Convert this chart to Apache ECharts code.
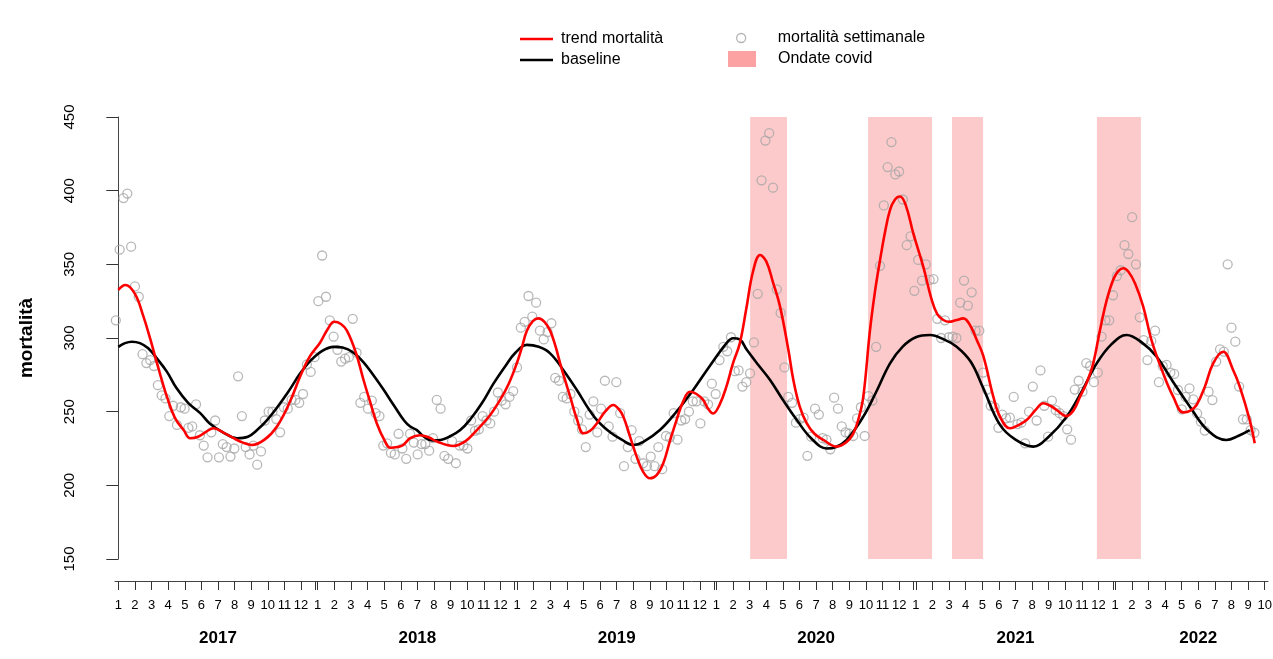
<!DOCTYPE html>
<html><head><meta charset="utf-8">
<script src="https://cdn.jsdelivr.net/npm/echarts@6/dist/echarts.min.js"></script>
<style>html,body{margin:0;padding:0;background:#fff}#c{width:1273px;height:659px}</style>
</head><body><div id="c"></div>
<script>
// ---- data (x = months since January 2017) ----
const monthLabels = ['1','2','3','4','5','6','7','8','9','10','11','12'];
const years = ['2017','2018','2019','2020','2021','2022'];
const yearLabelPos = [6, 18, 30, 42, 54, 65];
const lastMonthTick = 69;           // October 2022
const yTicks = [150, 200, 250, 300, 350, 400, 450];

const weeklyStart = -0.15;          // month position of the first weekly observation
const weeksPerYear = 52.18;
const weeklyMortality = [
312,360,395,398,362,335,328,289,283,285,281,268,261,259,247,254,241,253,252,239,
240,255,234,227,219,236,244,219,228,226,219.5,225,274,247,226,221,227,214,223,244,
250,250,245,236,253,252,258,258,256,262,282,277,287,
325,356,328,312,301,292,284,286,287,313,290,256,260,252,257.5,249,247,227,228.5,222,
221,235,225,218,235,229,221,228,228,223.5,232,258,252,220,218,230,215,227,227,225,
244,237,238,247,244,242,250,263,257.5,255,260,264,280,
307,311,328.5,314.5,324,305,299,304,310,273,271,260,259,262,250,244,238,226,248,257,
236,252,271,240,233,270,249,213,226,237.5,218,230,215,213,219.5,213,226,211,233.5,232.6,
249,231,244,245,250,257,257,242,257,255,269,262,285,
294,291,300.5,277.5,278,267,270,276,297,330,407,434,439,402,333,317,280,260,256,242.5,
245,246,220,233,252,248,232,231,224.5,259.5,252,240,236,235,233.5,245.5,253,233.5,260.6,257.5,
294,349,390,416,433,411,413,394,363,369,332,353,339,350,339.4,340,313,300,312,300.5,
301,300,324,339,322,331,305,305,276.5,265,254,253,239,248,245.5,246,260,241.6,242.5,228.5,
250,267,244,278,254,233,257.5,251,249,247,238,231,265,271,263.6,283,281,270,276.5,301,
312,312,329,342,346,363,357,382,350,314,298.6,285,298,305,270,281,281.7,276.5,275.6,264.7,
251.6,260,265.8,258.4,248.8,243.2,237.2,263.6,257.9,284,292.3,290.7,350,307,297.5,267,244.8,244.8,237.5,235.7
];

const trendMonths = [0,0.42,1.0,1.5,1.93,2.4,2.93,3.4,3.93,4.33,4.8,5.3,5.74,6.3,6.94,7.5,8.04,8.8,9.55,10.3,10.95,11.5,12.15,12.6,13.0,13.4,13.76,14.3,14.76,15.2,15.56,16.0,16.37,16.8,17.15,17.57,18.17,18.7,19.18,20.17,20.9,21.58,22.3,22.98,23.5,23.99,24.3,24.59,24.95,25.29,25.65,25.99,26.3,26.59,26.9,27.2,27.6,28.0,28.4,28.8,29.3,29.8,30.1,30.4,30.8,31.2,31.6,32.0,32.4,32.8,33.2,33.6,34.0,34.4,34.8,35.2,35.5,35.8,36.2,36.6,37.0,37.4,37.8,38.2,38.63,39.0,39.4,39.83,40.33,40.63,41.0,41.44,41.9,42.44,43.24,43.8,44.24,44.55,44.84,45.24,45.55,45.85,46.15,46.45,46.75,47.05,47.4,47.85,48.45,48.96,49.3,49.66,50.0,50.4,50.86,51.3,51.67,52.06,52.67,53.07,53.67,54.2,54.67,55.2,55.67,56.1,56.47,57.07,57.5,57.88,58.3,58.68,59.08,59.5,59.9,60.2,60.49,60.8,61.2,61.69,62.2,62.89,63.5,64.1,64.5,64.9,65.4,65.9,66.5,67.1,67.5,68.1,68.4];
const trendValues = [332.6,336,330,315,299,280,260,246,237.5,232,233,236.5,238.7,236,232,229,227.4,231,240,256,274,287,297,306,311,309.5,305,290,271.5,255,242,231,225.5,226,227.4,232,234,232.5,229.7,226.7,230,237.5,246.5,258,269,283,294,305,311.5,313.3,311,305,295,283,271,260,245,235.3,237,242,250,254.5,252,246.6,233,219.5,209,204.8,207,215,230,244.3,257,263.5,262,258,252,248.8,255,267,283,296,320,345,356.3,352,338,321.3,292,271.5,254,242,235,230.8,226.3,229,235.3,245,260,305,332,353,372,387,394,396,390,371,348.4,325.8,316,312.2,311,312,313.3,308,298.6,288,260,246.6,238.7,241,244.3,251,255.7,254,251.2,247,251,260,270,282.8,305,326,340,345.5,347.3,345,337,321.3,298,276,260,249.5,250.5,254.5,267,282.8,290.7,278.3,267,244.3,228.5];

const baselineMonths = [0,0.4,0.82,1.3,1.8,2.4,2.93,3.5,4.2,4.93,5.5,6.3,7.14,7.8,8.4,8.95,9.5,10.2,10.95,11.6,12.3,12.96,13.5,14.16,14.8,15.4,15.96,16.6,17.2,17.57,17.97,18.4,18.9,19.4,20.0,20.58,21.2,21.9,22.58,23.3,23.9,24.59,25.3,25.99,26.8,27.6,28.3,28.9,29.6,30.3,31.0,31.6,32.6,33.6,34.6,35.6,36.6,37.0,37.4,37.83,38.5,39.23,40.0,40.84,41.7,42.64,43.2,43.84,44.84,45.6,46.45,47.2,48.0,48.86,49.7,50.46,51.3,52.06,53.07,54.0,55.07,56.0,57.08,58.0,58.89,59.8,60.69,61.6,62.5,63.5,64.5,65.6,66.7,67.4,68.1];
const baselineValues = [294,296.5,297.5,296.5,293,285,277,266,256,249,242,236,232,233,238,244.3,252,263,276,285,291.5,294,293.5,290,283,274,265,254,244,239.9,237.5,233,230.5,230.8,233.5,237.5,245,256,269,281,290,295.3,294,289.6,278,264.7,252,243,236,231,227.4,229.5,237.5,250,264.7,281,296.4,299.8,299,292,282,271.5,258,244.3,232,225,226,230.8,246.6,263,282.8,294,300.5,302,299,294.1,284,266,241,231,226.3,233,246.6,264,282.8,296,302,297,287.3,270,253.4,237,230.8,233.5,237.5];

const covidStart = [38.03, 45.13, 50.18, 58.9];
const covidEnd   = [40.25, 48.98, 52.05, 61.55];

// ---- build ----
const FONT = '"Liberation Sans", Arial, sans-serif';
const yMin = yTicks[0], yMax = yTicks[yTicks.length - 1];
const monthTicks = [];
for (let m = 0; m <= lastMonthTick; m++) monthTicks.push(m);
const yearEdgeTicks = [];
for (let y = 1; y < years.length; y++) yearEdgeTicks.push(12 * y - 0.14);

const weeklyData = weeklyMortality.map((v, i) => [weeklyStart + i * 12 / weeksPerYear, v]);
const trendData = trendMonths.map((m, i) => [m, trendValues[i]]);
const baselineData = baselineMonths.map((m, i) => [m, baselineValues[i]]);
const covidData = covidStart.map((s, i) => [s, covidEnd[i]]);

const xCommon = {type: 'value', position: 'bottom', min: -0.2, max: 69.2, offset: 22, splitLine: {show: false}};
const legText = {fontSize: 16, color: '#000', fontFamily: FONT};

const chart = echarts.init(document.getElementById('c'), null, {renderer: 'canvas'});
chart.setOption({
  animation: false,
  backgroundColor: '#fff',
  textStyle: {fontFamily: FONT},
  grid: {left: 115, right: 5, top: 117, bottom: 100, containLabel: false, outerBoundsMode: 'none'},
  legend: [
    {data: [{name: 'trend mortalità', icon: 'rect'}], left: 515, top: 26, itemWidth: 33, itemHeight: 2.6,
     textStyle: Object.assign({padding: [0, 0, 0, 3]}, legText), selectedMode: false},
    {data: [{name: 'baseline', icon: 'rect'}], left: 515, top: 47, itemWidth: 33, itemHeight: 2.6,
     textStyle: Object.assign({padding: [0, 0, 0, 3]}, legText), selectedMode: false},
    {data: [{name: 'mortalità settimanale', icon: 'circle',
             itemStyle: {color: 'transparent', borderColor: '#a0a0a0', borderWidth: 1.3}}],
     left: 731, top: 25, itemWidth: 9, itemHeight: 9,
     textStyle: Object.assign({padding: [0, 0, 0, 27]}, legText), selectedMode: false},
    {data: [{name: 'Ondate covid', icon: 'rect', itemStyle: {color: '#FCA2A2'}}],
     left: 723, top: 46, itemWidth: 28, itemHeight: 16,
     textStyle: Object.assign({padding: [0, 0, 0, 17]}, legText), selectedMode: false}
  ],
  xAxis: [
    Object.assign({}, xCommon, {
      axisLine: {show: true, lineStyle: {color: '#444', width: 1}},
      axisTick: {show: true, customValues: monthTicks, length: 9, lineStyle: {color: '#333', width: 1}},
      axisLabel: {show: true, customValues: monthTicks, margin: 18, fontSize: 13, color: '#000', fontFamily: FONT,
                  formatter: v => monthLabels[Math.round(v) % 12]}
    }),
    Object.assign({}, xCommon, {
      axisLine: {show: false},
      axisTick: {show: true, customValues: yearEdgeTicks, length: 9, lineStyle: {color: '#333', width: 1}},
      axisLabel: {show: false}
    }),
    Object.assign({}, xCommon, {
      axisLine: {show: false}, axisTick: {show: false},
      axisLabel: {show: true, customValues: yearLabelPos, margin: 49, fontSize: 17, fontWeight: 'bold', color: '#000', fontFamily: FONT,
                  formatter: v => years[yearLabelPos.indexOf(v)]}
    })
  ],
  yAxis: {
    type: 'value', min: yMin, max: yMax, interval: 50, offset: 11,
    axisLine: {show: true, lineStyle: {color: '#444', width: 1}},
    axisTick: {show: true, length: 12, lineStyle: {color: '#333'}},
    axisLabel: {rotate: 90, margin: 27, fontSize: 15, color: '#000', fontFamily: FONT},
    splitLine: {show: false},
    name: 'mortalità', nameLocation: 'middle', nameRotate: 90, nameGap: 68,
    nameTextStyle: {fontSize: 19, fontWeight: 'bold', color: '#000', fontFamily: FONT}
  },
  series: [
    {type: 'custom', name: 'Ondate covid', data: covidData, z: 1, silent: true, clip: true,
     itemStyle: {color: '#FCCACA'},
     encode: {x: [0, 1]},
     renderItem: (params, api) => {
       const a = api.coord([api.value(0), yMax]);
       const b = api.coord([api.value(1), yMin]);
       return {type: 'rect', shape: {x: a[0], y: a[1], width: b[0] - a[0], height: b[1] - a[1]},
               style: {fill: '#FCCACA'}};
     }},
    {type: 'scatter', name: 'mortalità settimanale', data: weeklyData, z: 2, symbol: 'circle', symbolSize: 9,
     itemStyle: {color: 'transparent', borderColor: '#a6a6a6', borderWidth: 1.3}, clip: true},
    {type: 'line', name: 'baseline', data: baselineData, z: 3, symbol: 'none', smooth: 0.4,
     color: '#000', lineStyle: {color: '#000', width: 2.6}},
    {type: 'line', name: 'trend mortalità', data: trendData, z: 4, symbol: 'none', smooth: 0.4,
     color: '#ff0000', lineStyle: {color: '#ff0000', width: 2.6}}
  ]
});
</script>
</body></html>
